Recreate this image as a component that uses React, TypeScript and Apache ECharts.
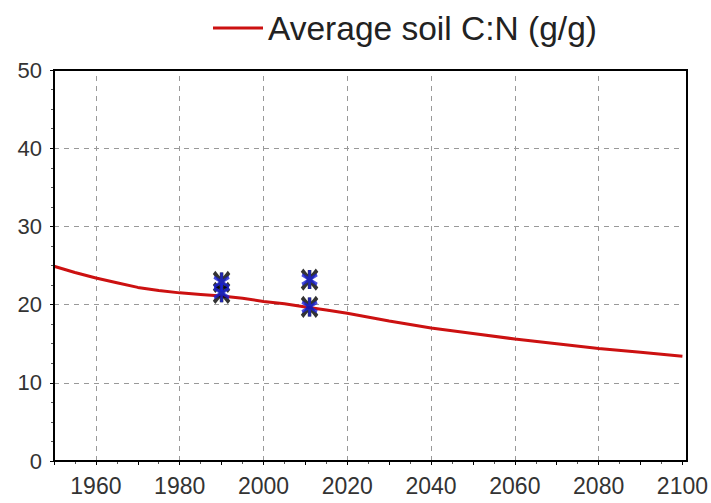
import React, { useEffect, useRef } from "react";
import * as echarts from "echarts";

const years = [1950, 1955, 1960, 1965, 1970, 1975, 1980, 1985, 1990, 1995, 2000, 2005, 2010, 2015, 2020, 2030, 2040, 2050, 2060, 2070, 2080, 2090, 2100];
const soilCN = [24.9, 24.1, 23.4, 22.8, 22.2, 21.8, 21.5, 21.3, 21.1, 20.8, 20.4, 20.1, 19.7, 19.3, 18.9, 17.9, 17.0, 16.3, 15.6, 15.0, 14.4, 13.9, 13.4];
const obsYears = [1990, 1990, 2011, 2011];
const obsValues = [22.9, 21.5, 23.2, 19.7];
const xTicks = [1960, 1980, 2000, 2020, 2040, 2060, 2080, 2100];

const blackStar = "path://M0,0 L10,10 M10,0 L0,10 M5,0 L5,10";
const blueStar = "path://M5,0 L5,10 M2.5,2.5 L7.5,7.5 M7.5,2.5 L2.5,7.5";
const FONT = "Liberation Sans, Arial, sans-serif";

export default function App() {
  const ref = useRef<HTMLDivElement>(null);
  useEffect(() => {
    document.body.style.margin = "0";
    const chart = echarts.init(ref.current!, null, { renderer: "svg" });
    const obs = obsYears.map((y, i) => [y, obsValues[i]]);
    chart.setOption({
      animation: false,
      backgroundColor: "#ffffff",
      textStyle: { fontFamily: FONT },
      legend: {
        data: [{ name: "Average soil C:N (g/g)", icon: "rect" }],
        top: 6,
        left: 208,
        itemWidth: 50,
        itemHeight: 3,
        itemGap: 10,
        textStyle: { fontSize: 33.5, color: "#222", fontFamily: FONT },
      },
      grid: { left: 54, top: 70, right: 24, bottom: 42 },
      xAxis: {
        type: "value",
        min: 1950,
        max: 2100,
        interval: 10,
        axisLine: { show: true, lineStyle: { color: "#000", width: 2 } },
        axisTick: { show: true, length: 4, lineStyle: { color: "#000" } },
        minorTick: { show: true, splitNumber: 2, length: 3, lineStyle: { color: "#555" } },
        axisLabel: {
          fontSize: 23,
          color: "#333",
          margin: 13,
          formatter: (v: number) => (xTicks.includes(v) ? String(v) : ""),
        },
        splitLine: { show: false },
      },
      yAxis: {
        type: "value",
        min: 0,
        max: 50,
        interval: 10,
        axisLine: { show: true, lineStyle: { color: "#000", width: 2 } },
        axisTick: { show: true, length: 4, lineStyle: { color: "#000" } },
        minorTick: { show: true, splitNumber: 4, length: 3, lineStyle: { color: "#555" } },
        axisLabel: { fontSize: 22, color: "#333", margin: 12 },
        splitLine: { show: true, lineStyle: { color: "#999", type: [5, 5], width: 1 } },
      },
      graphic: [
        {
          type: "rect",
          shape: { x: 54, y: 70, width: 711 - 54 - 24, height: 503 - 70 - 42 },
          style: { fill: "none", stroke: "#000", lineWidth: 2 },
          silent: true,
          z: 100,
        },
      ],
      series: [
        {
          name: "Average soil C:N (g/g)",
          type: "line",
          data: years.map((y, i) => [y, soilCN[i]]),
          symbol: "none",
          lineStyle: { color: "#cc1111", width: 3 },
          itemStyle: { color: "#cc1111" },
          z: 3,
          markLine: {
            silent: true,
            symbol: "none",
            label: { show: false },
            lineStyle: { color: "#999", type: [5, 5], width: 1 },
            data: xTicks.slice(0, -1).map((v) => ({ xAxis: v })),
            z: 1,
          },
        },
        {
          name: "obsBlack",
          type: "scatter",
          data: obs,
          symbol: blackStar,
          symbolSize: [15, 19],
          itemStyle: { color: "none", borderColor: "#000", borderWidth: 4 },
          z: 5,
        },
        {
          name: "obsBlue",
          type: "scatter",
          data: obs,
          symbol: blueStar,
          symbolSize: [15, 19],
          itemStyle: { color: "none", borderColor: "#1a22d6", borderWidth: 3 },
          z: 6,
        },
      ],
    });
    return () => chart.dispose();
  }, []);
  return <div ref={ref} style={{ width: 711, height: 503 }} />;
}
